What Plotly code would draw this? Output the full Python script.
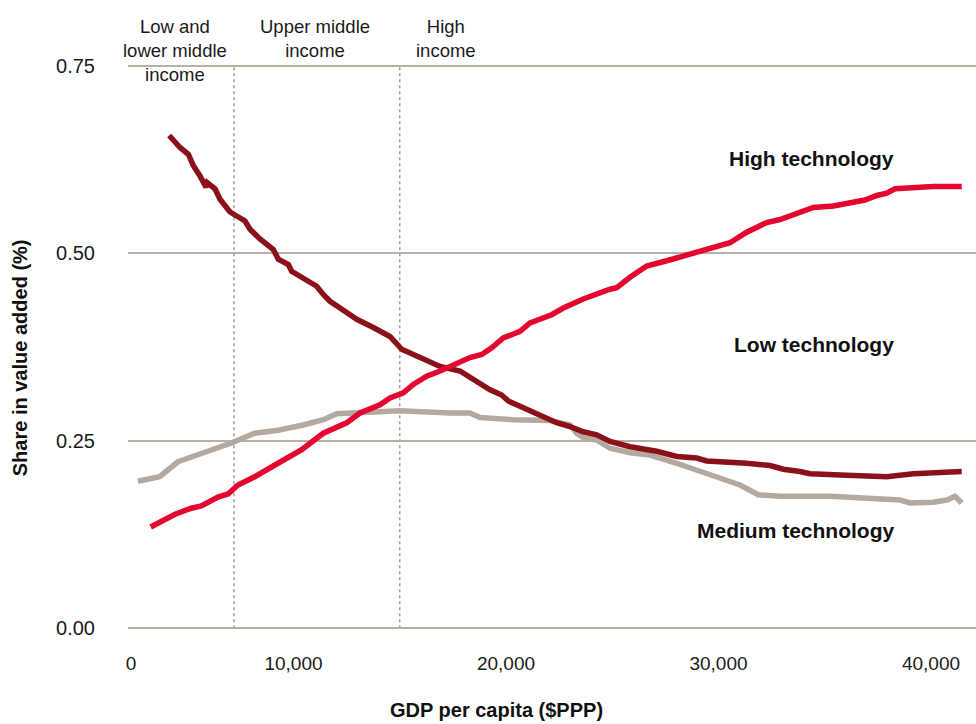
import plotly.graph_objects as go

# ---- data ----
high_x = [3280, 4424, 5191, 5661, 6447, 6918, 7388, 8174, 9271, 9600, 10386, 11403, 12504, 13130,
          14071, 14541, 15168, 15638, 16269, 16895, 17365, 18306, 18857, 19327, 19874, 20659, 21130,
          22151, 22697, 23638, 24895, 25210, 25836, 26622, 27563, 28034, 28975, 29756, 30542, 31328,
          32269, 32895, 33521, 34462, 35403, 36344, 36895, 37446, 37916, 38307, 39168, 40109, 41446]
high_y = [0.135, 0.152, 0.160, 0.163, 0.175, 0.179, 0.191, 0.202, 0.220, 0.225, 0.238, 0.260, 0.274, 0.287,
          0.298, 0.307, 0.314, 0.325, 0.336, 0.343, 0.349, 0.361, 0.365, 0.374, 0.387, 0.396, 0.407,
          0.418, 0.427, 0.439, 0.452, 0.454, 0.468, 0.483, 0.490, 0.494, 0.501, 0.508, 0.514, 0.528,
          0.541, 0.545, 0.552, 0.561, 0.563, 0.568, 0.571, 0.577, 0.580, 0.586, 0.588, 0.589, 0.589]

low_x = [4150, 4660, 5050, 5285, 5600, 5883, 5944, 6306, 6541, 7012, 7718, 7953, 8424, 9050, 9285,
         9756, 9915, 10386, 11092, 11403, 11718, 12504, 12974, 13756, 14541, 15092, 15483, 16269,
         16895, 17836, 18462, 19248, 19798, 20109, 20659, 21600, 22386, 23012, 23638, 24269, 24895,
         25836, 27092, 28034, 28975, 29445, 30542, 31328, 32424, 33050, 33836, 34307, 36034, 37916,
         39168, 41446]
low_y = [0.657, 0.641, 0.632, 0.617, 0.603, 0.588, 0.594, 0.586, 0.572, 0.555, 0.543, 0.532, 0.519,
         0.505, 0.492, 0.485, 0.476, 0.468, 0.456, 0.445, 0.436, 0.421, 0.412, 0.401, 0.389, 0.372,
         0.367, 0.356, 0.349, 0.343, 0.332, 0.318, 0.311, 0.303, 0.296, 0.285, 0.274, 0.269, 0.262,
         0.258, 0.249, 0.242, 0.236, 0.229, 0.227, 0.223, 0.222, 0.220, 0.217, 0.212, 0.209, 0.206,
         0.204, 0.202, 0.206, 0.209]

med_x = [2682, 3704, 4565, 5821, 7073, 8174, 9271, 10461, 11403, 12033, 13285, 15012, 17365, 18306,
         18777, 20344, 22071, 23012, 23328, 23638, 24269, 24895, 25836, 26777, 28034, 28975, 30227,
         31013, 31874, 32895, 35248, 37130, 38542, 39013, 40109, 40740, 41130, 41446]
med_y = [0.196, 0.202, 0.222, 0.234, 0.247, 0.260, 0.264, 0.271, 0.278, 0.286, 0.288, 0.290, 0.287,
         0.287, 0.281, 0.278, 0.277, 0.271, 0.260, 0.254, 0.251, 0.240, 0.234, 0.231, 0.220, 0.211,
         0.200, 0.191, 0.178, 0.176, 0.176, 0.174, 0.171, 0.167, 0.168, 0.171, 0.176, 0.167]

y_ticks = [0, 0.25, 0.5, 0.75]
y_ticktext = ["0.00", "0.25", "0.50", "0.75"]
x_ticks = [2350, 10000, 20000, 30000, 40000]
x_ticktext = ["0", "10,000", "20,000", "30,000", "40,000"]
thresholds = [7200, 15000]
groups = ["Low and<br>lower middle<br>income", "Upper middle<br>income", "High<br>income"]
group_x = [4424, 11012, 17177]
series_names = ["High technology", "Low technology", "Medium technology"]
series_label_y = [0.627, 0.379, 0.131]

C_HIGH = "#E4062F"
C_LOW = "#8A1119"
C_MED = "#B3A9A0"
GRID = "#B8AFA6"
FONT = "Liberation Sans, Arial, Helvetica, sans-serif"

fig = go.Figure()
fig.add_trace(go.Scatter(x=med_x, y=med_y, mode="lines", name=series_names[2],
                         line=dict(color=C_MED, width=5.5)))
fig.add_trace(go.Scatter(x=low_x, y=low_y, mode="lines", name=series_names[1],
                         line=dict(color=C_LOW, width=5.5)))
fig.add_trace(go.Scatter(x=high_x, y=high_y, mode="lines", name=series_names[0],
                         line=dict(color=C_HIGH, width=5.5)))

for t in thresholds:
    fig.add_shape(type="line", xref="x", yref="y", x0=t, x1=t, y0=0, y1=0.75,
                  line=dict(color="#A59C94", width=1.5, dash="dot"), layer="below")

for txt, gx in zip(groups, group_x):
    fig.add_annotation(x=gx, xref="x", y=1.085, yref="paper", yanchor="top", text=txt,
                       showarrow=False, align="center",
                       font=dict(family=FONT, size=18.5, color="#1a1a1a"))

for name, ly in zip(series_names, series_label_y):
    fig.add_annotation(x=38354, xref="x", y=ly, yref="y", xanchor="right", yanchor="middle",
                       text="<b>" + name + "</b>", showarrow=False,
                       font=dict(family=FONT, size=21, color="#111111"))

fig.add_annotation(x=0.435, xref="paper", y=-0.1375, yref="paper", yanchor="middle",
                   text="<b>GDP per capita ($PPP)</b>", showarrow=False,
                   font=dict(family=FONT, size=20, color="#111111"))
fig.add_annotation(x=-0.1274, xref="paper", y=0.482, yref="paper", textangle=-90,
                   xanchor="center", yanchor="middle",
                   text="<b>Share in value added (%)</b>", showarrow=False,
                   font=dict(family=FONT, size=20, color="#111111"))

fig.update_layout(
    width=976, height=724,
    margin=dict(l=128, r=0, t=62, b=92),
    paper_bgcolor="white", plot_bgcolor="white",
    showlegend=False,
    xaxis=dict(range=[2212, 42118], showgrid=False, zeroline=False, showline=False,
               tickmode="array", tickvals=x_ticks, ticktext=x_ticktext,
               ticks="outside", ticklen=14, tickcolor="rgba(0,0,0,0)",
               tickfont=dict(family=FONT, size=19, color="#1a1a1a")),
    yaxis=dict(range=[-0.005, 0.755], showgrid=True, gridcolor=GRID, gridwidth=2,
               zeroline=False, showline=False,
               tickmode="array", tickvals=y_ticks, ticktext=y_ticktext,
               ticks="outside", ticklen=28, tickcolor="rgba(0,0,0,0)",
               tickfont=dict(family=FONT, size=20, color="#1a1a1a")),
)

fig.write_html("out.html", config={"displayModeBar": False},
               post_script="document.body.style.margin='0';document.body.style.overflow='hidden';")
